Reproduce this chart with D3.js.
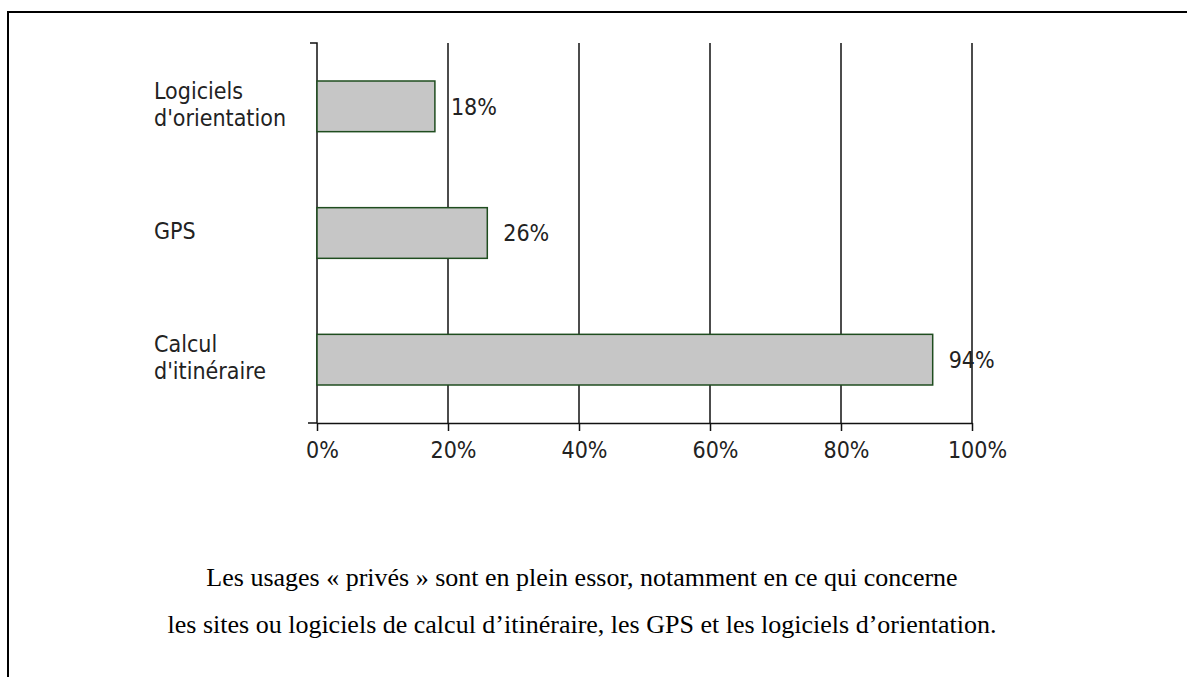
<!DOCTYPE html>
<html>
<head>
<meta charset="utf-8">
<script src="https://cdn.jsdelivr.net/npm/d3@7"></script>
<style>
  html, body { margin: 0; padding: 0; background: #fff; }
  svg { display: block; }
  .lbl { font-family: 'DejaVu Sans Condensed', 'DejaVu Sans', sans-serif; font-stretch: condensed; fill: #222; }
  .cap { font-family: 'Liberation Serif', 'Times New Roman', serif; font-size: 26px; fill: #000; }
</style>
</head>
<body>
<svg id="chart" width="1187" height="677"></svg>
<script>
// data
const categories = [["Logiciels", "d'orientation"], ["GPS"], ["Calcul", "d'itinéraire"]];
const values = [18, 26, 94];
const ticks = [0, 20, 40, 60, 80, 100];
const caption = [
  'Les usages « privés » sont en plein essor, notamment en ce qui concerne',
  'les sites ou logiciels de calcul d’itinéraire, les GPS et les logiciels d’orientation.'
];

const svg = d3.select('#chart');

// frame around the figure (right and bottom sides fall outside the view)
svg.append('rect')
  .attr('x', 8).attr('y', 12)
  .attr('width', 1300).attr('height', 800)
  .attr('fill', 'none')
  .attr('stroke', '#000')
  .attr('stroke-width', 2);

const x = d3.scaleLinear().domain([0, 100]).range([317, 972]);
const y = d3.scaleBand()
  .domain(categories.map((d, i) => i))
  .range([43, 423])
  .paddingInner(0.6)
  .paddingOuter(0.3);

// vertical grid lines
svg.append('g')
  .selectAll('line')
  .data(ticks.slice(1))
  .join('line')
  .attr('x1', d => x(d)).attr('x2', d => x(d))
  .attr('y1', 43).attr('y2', 423)
  .attr('stroke', '#111')
  .attr('stroke-width', 1.5);

// y axis line with end ticks
svg.append('path')
  .attr('d', `M310,43H${x(0)}V423H308`)
  .attr('fill', 'none')
  .attr('stroke', '#111')
  .attr('stroke-width', 1.5);

// x axis
const xAxis = svg.append('g')
  .attr('transform', 'translate(0,423)')
  .call(d3.axisBottom(x).tickValues(ticks).tickSize(8).tickSizeOuter(0).tickFormat(d => d + '%'));
xAxis.select('.domain').attr('stroke', '#111').attr('stroke-width', 1.5);
xAxis.selectAll('.tick line').attr('stroke', '#111').attr('stroke-width', 1.5);
xAxis.selectAll('.tick text')
  .attr('class', 'lbl')
  .attr('font-size', null)
  .attr('font-family', null)
  .style('font-size', '23px')
  .attr('fill', '#222')
  .attr('dx', 5)
  .attr('y', 19);

// bars
svg.append('g')
  .selectAll('rect')
  .data(values)
  .join('rect')
  .attr('x', x(0))
  .attr('y', (d, i) => y(i))
  .attr('width', d => x(d) - x(0))
  .attr('height', y.bandwidth())
  .attr('fill', '#c6c6c6')
  .attr('stroke', '#1f4d1f')
  .attr('stroke-width', 1.5);

// value labels
svg.append('g')
  .selectAll('text')
  .data(values)
  .join('text')
  .attr('class', 'lbl')
  .style('font-size', '23px')
  .attr('x', d => x(d) + 16)
  .attr('y', (d, i) => y(i) + y.bandwidth() / 2)
  .attr('dy', '0.36em')
  .text(d => d + '%');

// category labels
const lineGap = 27;
const cat = svg.append('g')
  .selectAll('text')
  .data(categories)
  .join('text')
  .attr('class', 'lbl')
  .style('font-size', '23px')
  .attr('x', 154)
  .attr('y', (d, i) => y(i) + y.bandwidth() / 2 + 6 - (d.length - 1) * lineGap / 2)
  .attr('dy', '0.36em');
cat.selectAll('tspan')
  .data(d => d)
  .join('tspan')
  .attr('x', 154)
  .attr('dy', (d, i) => i ? lineGap : 0)
  .text(d => d);

// caption
svg.append('g')
  .selectAll('text')
  .data(caption)
  .join('text')
  .attr('class', 'cap')
  .attr('x', 582)
  .attr('y', (d, i) => 586 + i * 47)
  .attr('text-anchor', 'middle')
  .text(d => d);
</script>
</body>
</html>
